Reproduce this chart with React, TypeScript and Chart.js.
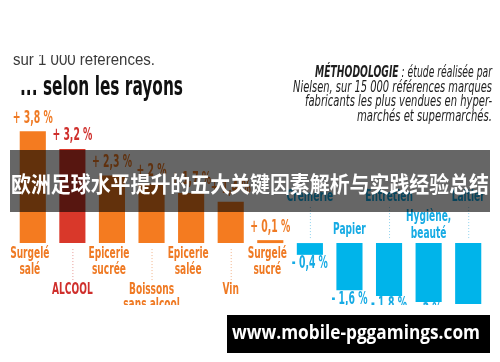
import React, { useEffect, useRef } from "react";
import { Chart, registerables } from "chart.js";

Chart.register(...registerables);

// ---- data ----
const CATEGORIES: string[][] = [
  ["Surgelé", "salé"],
  ["ALCOOL"],
  ["Epicerie", "sucrée"],
  ["Boissons", "sans alcool"],
  ["Epicerie", "salée"],
  ["Vin"],
  ["Surgelé", "sucré"],
  ["Crèmerie"],
  ["Papier"],
  ["Entretien"],
  ["Hygiène,", "beauté"],
  ["Laitier"],
];
const VALUES: number[] = [3.8, 3.2, 2.3, 2.0, 1.7, 1.4, 0.1, -0.4, -1.6, -1.8, -2.0, -2.5];
const HIGHLIGHT = "ALCOOL";
const Y_MIN = -2.07;
const Y_MAX = 6.9;

const SUBTITLE_TOP = "sur 1 000 références.";
const TITLE = "... selon les rayons";
const METHOD_BOLD = "MÉTHODOLOGIE";
const METHOD_LINES = [
  " : étude réalisée par",
  "Nielsen, sur 15 000 références marques",
  "fabricants les plus vendues en hyper-",
  "marchés et supermarchés.",
];
const BANNER = "欧洲足球水平提升的五大关键因素解析与实践经验总结";
const WATERMARK = "www.mobile-pggamings.com";

// ---- styles ----
const ORANGE = "#f47b20";
const RED = "#d9382a";
const BLUE = "#00b4ea";
const ORANGE_TXT = "#ef7a24";
const RED_TXT = "#cf2f2c";
const BLUE_TXT = "#16abe4";
const COND = '"Liberation Sans Narrow", "DejaVu Sans Condensed", "Roboto", sans-serif';

const barColor = (i: number) =>
  VALUES[i] < 0 ? BLUE : CATEGORIES[i][0] === HIGHLIGHT ? RED : ORANGE;
const txtColor = (i: number) =>
  VALUES[i] < 0 ? BLUE_TXT : CATEGORIES[i][0] === HIGHLIGHT ? RED_TXT : ORANGE_TXT;

const fmt = (v: number) => {
  const a = Math.abs(v);
  const s = Number.isInteger(a) ? String(a) : a.toFixed(1).replace(".", ",");
  return (v >= 0 ? "+ " : "- ") + s + " %";
};

function drawScaled(
  ctx: CanvasRenderingContext2D,
  text: string,
  x: number,
  y: number,
  font: string,
  color: string,
  align: CanvasTextAlign,
  sx: number
) {
  ctx.save();
  ctx.font = font;
  ctx.fillStyle = color;
  ctx.textAlign = align;
  ctx.textBaseline = "middle";
  ctx.translate(x, y);
  ctx.scale(sx, 1);
  ctx.fillText(text, 0, 0);
  ctx.restore();
}

function fitFactor(ctx: CanvasRenderingContext2D, text: string, font: string, w: number) {
  ctx.save();
  ctx.font = font;
  const m = ctx.measureText(text).width;
  ctx.restore();
  return m > 0 ? w / m : 1;
}

const overlayPlugin = {
  id: "overlay",
  beforeDraw(chart: any) {
    const ctx = chart.ctx as CanvasRenderingContext2D;
    ctx.save();
    ctx.fillStyle = "#ffffff";
    ctx.fillRect(0, 0, chart.width, chart.height);
    ctx.restore();
  },
  afterDatasetsDraw(chart: any) {
    const ctx = chart.ctx as CanvasRenderingContext2D;
    const meta = chart.getDatasetMeta(0);

    // header texts
    ctx.save();
    ctx.beginPath();
    ctx.rect(0, 55, 250, 20);
    ctx.clip();
    const fSub = '17px "Liberation Sans", Arial, sans-serif';
    drawScaled(ctx, SUBTITLE_TOP, 13, 60, fSub, "#3a3a3a", "left", fitFactor(ctx, SUBTITLE_TOP, fSub, 142));
    ctx.restore();

    const fTitle = "bold 26px " + COND;
    drawScaled(ctx, TITLE, 20, 88, fTitle, "#111111", "left", fitFactor(ctx, TITLE, fTitle, 163));

    // methodology block
    const fMB = "italic bold 15px " + COND;
    const fMI = "italic 15px " + COND;
    const widths = [177, 199, 187, 135];
    const ys = [73, 88, 102, 117];
    const right = 492;
    ctx.save();
    ctx.font = fMB;
    const wb = ctx.measureText(METHOD_BOLD).width;
    ctx.font = fMI;
    const wi = ctx.measureText(METHOD_LINES[0]).width;
    ctx.restore();
    const s0 = widths[0] / (wb + wi);
    ctx.save();
    ctx.translate(right - widths[0], ys[0]);
    ctx.scale(s0, 1);
    ctx.textBaseline = "middle";
    ctx.textAlign = "left";
    ctx.fillStyle = "#1e1e1e";
    ctx.font = fMB;
    ctx.fillText(METHOD_BOLD, 0, 0);
    ctx.font = fMI;
    ctx.fillText(METHOD_LINES[0], wb, 0);
    ctx.restore();
    for (let k = 1; k < METHOD_LINES.length; k++) {
      drawScaled(ctx, METHOD_LINES[k], right, ys[k], fMI, "#1e1e1e", "right",
        fitFactor(ctx, METHOD_LINES[k], fMI, widths[k]));
    }

    // value labels and category labels
    const fVal = "bold 17px " + COND;
    const sVal = fitFactor(ctx, "+ 3,8 %", fVal, 40);
    const fCat = "bold 15px " + COND;
    const sCat = fitFactor(ctx, "Epicerie", fCat, 41);

    meta.data.forEach((bar: any, i: number) => {
      const v = VALUES[i];
      const x = bar.x;
      const top = Math.min(bar.y, bar.base);
      const bottom = Math.max(bar.y, bar.base);
      const base = bar.base;
      const col = txtColor(i);
      const far = i % 2 === 1;
      const lines = CATEGORIES[i];

      if (v >= 0) {
        drawScaled(ctx, fmt(v), x, top - 13, fVal, col, "center", sVal);
        if (far) {
          ctx.save();
          ctx.strokeStyle = i === 1 ? "#e79a96" : "#f2b48a";
          ctx.lineWidth = 1;
          ctx.setLineDash([1, 2]);
          ctx.beginPath();
          ctx.moveTo(x + 0.5, base + 6);
          ctx.lineTo(x + 0.5, base + 38);
          ctx.stroke();
          ctx.restore();
          lines.forEach((t, k) => drawScaled(ctx, t, x, base + 47 + k * 15, fCat, col, "center", sCat));
        } else {
          lines.forEach((t, k) => drawScaled(ctx, t, x - 3, base + 11 + k * 16, fCat, col, "center", sCat));
        }
      } else {
        drawScaled(ctx, fmt(v), x, bottom + 9, fVal, col, "center", sVal);
        if (far) {
          ctx.save();
          ctx.strokeStyle = "#8fd2ee";
          ctx.lineWidth = 1;
          ctx.setLineDash([1, 2]);
          ctx.beginPath();
          ctx.moveTo(x + 0.5, base - 5);
          ctx.lineTo(x + 0.5, base - 38);
          ctx.stroke();
          ctx.restore();
          lines.forEach((t, k) => drawScaled(ctx, t, x, base - 46 + k * 16, fCat, col, "center", sCat));
        } else {
          const n = lines.length;
          const last = n === 1 ? base - 13 : base - 9;
          lines.forEach((t, k) =>
            drawScaled(ctx, t, x, last - (n - 1 - k) * 17, fCat, col, "center", sCat)
          );
        }
      }
    });
  },
  afterDraw(chart: any) {
    const ctx = chart.ctx as CanvasRenderingContext2D;
    // banner
    ctx.save();
    ctx.fillStyle = "rgba(0,0,0,0.6)";
    ctx.fillRect(10, 150, 480, 62);
    ctx.restore();
    const fB = 'bold 22px "Noto Sans CJK SC", sans-serif';
    drawScaled(ctx, BANNER, 250, 184, fB, "#ffffff", "center", fitFactor(ctx, BANNER, fB, 478));

    // clip the photo region under the chart
    ctx.save();
    ctx.fillStyle = "#ffffff";
    ctx.fillRect(0, 305, chart.width, chart.height - 305);
    ctx.restore();

    // watermark
    ctx.save();
    ctx.fillStyle = "#000000";
    ctx.fillRect(227, 315, 263, 38);
    ctx.restore();
    const fW = 'bold 19px "Open Sans", sans-serif';
    drawScaled(ctx, WATERMARK, 356, 334, fW, "#ffffff", "center", fitFactor(ctx, WATERMARK, fW, 248));
  },
};

export default function App() {
  const ref = useRef<HTMLCanvasElement | null>(null);
  useEffect(() => {
    if (!ref.current) return;
    const chart = new Chart(ref.current, {
      type: "bar",
      data: {
        labels: CATEGORIES,
        datasets: [
          {
            data: VALUES,
            backgroundColor: VALUES.map((_, i) => barColor(i)),
            borderWidth: 0,
            categoryPercentage: 1,
            barPercentage: 0.66,
          },
        ],
      },
      options: {
        responsive: false,
        maintainAspectRatio: false,
        animation: false,
        events: [],
        layout: { padding: { top: 40, bottom: 58, left: 13, right: 12 } },
        plugins: {
          legend: { display: false },
          tooltip: { enabled: false },
          title: { display: false },
        },
        scales: {
          x: { display: false },
          y: { display: false, min: Y_MIN, max: Y_MAX },
        },
      },
      plugins: [overlayPlugin],
    });
    return () => chart.destroy();
  }, []);
  return (
    <div style={{ position: "fixed", left: 0, top: 0, width: 500, height: 362, background: "#fff" }}>
      <canvas ref={ref} width={500} height={362} style={{ display: "block" }} />
    </div>
  );
}
